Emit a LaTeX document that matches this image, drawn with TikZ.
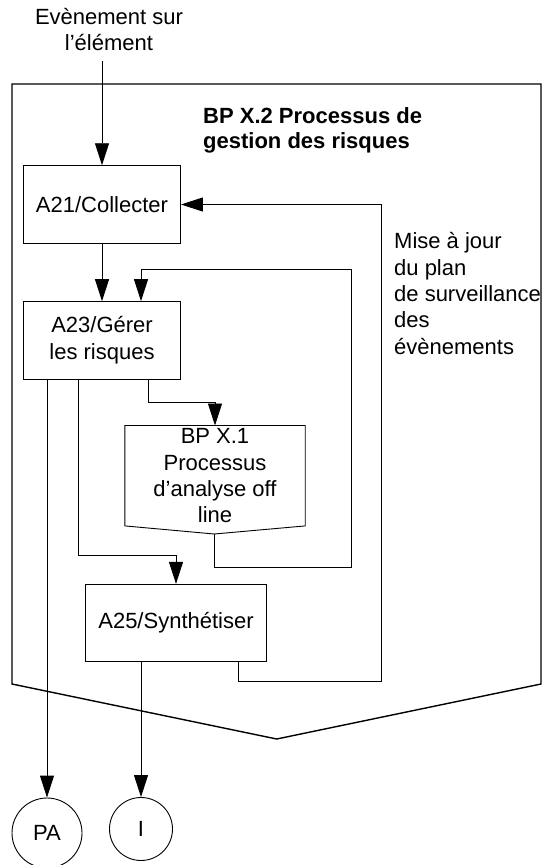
\documentclass[tikz,border=0pt]{standalone}
\usepackage{fontspec}
\setmainfont{Liberation Sans}
\usetikzlibrary{arrows.meta,calc}
\begin{document}
\begin{tikzpicture}[x=1pt,y=-1pt,
  every node/.style={font=\fontsize{22}{26.3}\selectfont, inner sep=0pt},
  box/.style={draw, line width=0.9pt, rectangle, align=center},
  circ/.style={draw, line width=0.9pt, circle},
  conn/.style={line width=0.9pt, -{Triangle[length=22pt,width=14pt]}},
  plain/.style={line width=0.9pt},
  frame/.style={line width=1.4pt, line join=miter}
]
\useasboundingbox (0,0) rectangle (542,865);
\clip (0,0) rectangle (542,865);

% frame
\draw[frame] (12,84) -- (541,84) -- (541,684) -- (276.7,739) -- (12,684) -- cycle;

% texts
\node[align=center] (intext) at (109,29.5) {Evènement sur\\l’élément};
\node[align=left, anchor=west, font=\fontsize{22}{25.5}\selectfont\bfseries] (title) at (203,130.5) {BP X.2 Processus de\\gestion des risques};
\node[align=left, anchor=west] (maj) at (394,293.5) {Mise à jour\\du plan\\de surveillance\\des\\évènements};

% boxes
\node[box, minimum width=157pt, minimum height=77.6pt] (A21) at (102,204.5) {A21/Collecter};
\node[box, minimum width=157pt, minimum height=77.3pt] (A23) at (102,340.3) {A23/Gérer\\les risques};
\node[box, minimum width=180.5pt, minimum height=77.4pt] (A25) at (176,623) {A25/Synthétiser};
\node[align=center, minimum width=180pt, minimum height=100pt] (BPX1) at (215,475.7) {BP X.1\\Processus\\d’analyse off\\line};
\coordinate (bptip) at (214.3,534);
\draw[line width=0.9pt] (BPX1.north west) -- (BPX1.north east) -- (BPX1.south east) -- (bptip) -- (BPX1.south west) -- cycle;

% circles
\node[circ, minimum size=70pt] (PA) at (47,833) {PA};
\node[circ, minimum size=63pt] (I) at (141,829) {I};

% connectors
\coordinate (inStart) at (102,61);
\coordinate (c1) at (351.5,269);
\coordinate (c2) at (381.6,204.5);
\draw[conn] (inStart) -- (A21.north);
\draw[conn] (A21.south) -- (A23.north);
\draw[conn] (bptip) -- ++(0,33.3) -| (c1) -| ([xshift=39pt]A23.north);
\draw[conn] ([xshift=46.6pt]A23.south) -- ++(0,23.3) -| (BPX1.north);
\draw[conn] ([xshift=-23.2pt]A23.south) -- ++(0,176.3) -| (A25.north);
\draw[conn] (A23.south -| PA.north) -- (PA.north);
\draw[conn] (A25.south -| I.north) -- (I.north);
\draw[conn] ([xshift=62.9pt]A25.south) -- ++(0,19.3) -| (c2) -- (A21.east);
\end{tikzpicture}
\end{document}
